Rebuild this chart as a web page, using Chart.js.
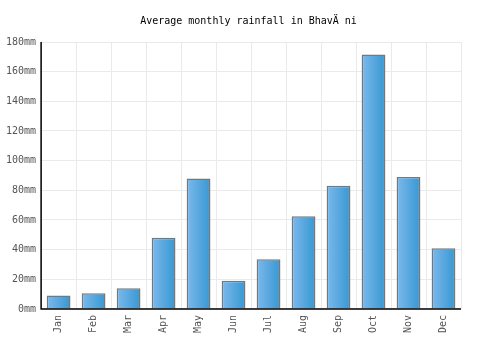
<!DOCTYPE html>
<html><head><meta charset="utf-8">
<script src="https://cdn.jsdelivr.net/npm/chart.js@4/dist/chart.umd.min.js"></script>
<style>html,body{margin:0;padding:0;background:#fff}#w{width:500px;height:350px}</style>
</head><body><div id="w"><canvas id="c"></canvas></div>
<script>
const categories = ["Jan","Feb","Mar","Apr","May","Jun","Jul","Aug","Sep","Oct","Nov","Dec"];
const rainfall = [9, 10.5, 14, 48, 88, 19, 33.5, 62.5, 83, 171.5, 89, 41];
const chartTitle = "Average monthly rainfall in Bhav\u00c4\u00a0ni";
const yUnit = "mm";

const gradPlugin = {
  id: 'grad',
  beforeDatasetsDraw(chart) {
    const ctx = chart.ctx;
    chart.getDatasetMeta(0).data.forEach(el => {
      const w = el.width;
      const g = ctx.createLinearGradient(el.x - w/2, 0, el.x + w/2, 0);
      g.addColorStop(0, '#7cb9ec');
      g.addColorStop(1, '#3797d2');
      el.options = Object.assign({}, el.options, { backgroundColor: g });
    });
  }
};
const axisLines = {
  id: 'axisLines',
  afterDatasetsDraw(chart) {
    const {ctx, chartArea: a} = chart;
    ctx.save();
    ctx.strokeStyle = '#000';
    ctx.lineWidth = 1.5;
    ctx.beginPath();
    ctx.moveTo(a.left, a.top);
    ctx.lineTo(a.left, a.bottom);
    ctx.lineTo(a.right, a.bottom);
    ctx.stroke();
    ctx.restore();
  }
};

new Chart(document.getElementById('c'), {
  type: 'bar',
  data: { labels: categories, datasets: [{ data: rainfall, borderColor: '#777', borderWidth: 1.5, backgroundColor: ctx => '#5aa8e0', barPercentage: 0.68, categoryPercentage: 1 }] },
  options: {
    responsive: true, maintainAspectRatio: false, animation: false,
    layout: { padding: { top: 6, right: 4, left: 1, bottom: 11 } },
    plugins: {
      legend: { display: false }, tooltip: { enabled: false },
      title: { display: true, text: chartTitle, color: '#000', font: { family: 'DejaVu Sans Mono', size: 10, weight: 'normal' }, padding: { top: 9, bottom: 15 } }
    },
    scales: {
      x: { grid: { color: '#eaeaea', offset: true, drawTicks: false }, border: { display: false },
           ticks: { color: '#555', font: { family: 'DejaVu Sans Mono', size: 10 }, maxRotation: 90, minRotation: 90, padding: 6 } },
      y: { min: 0, max: 180, grid: { color: '#eaeaea', drawTicks: false }, border: { display: false },
           ticks: { stepSize: 20, color: '#555', font: { family: 'DejaVu Sans Mono', size: 10 }, padding: 5, callback: v => v + yUnit } },
      yR: { position: 'right', display: true, grid: { display: false }, border: { display: false },
            ticks: { display: false }, afterFit(s) { s.width = 35; } }
    }
  },
  plugins: [gradPlugin, axisLines]
});
</script></body></html>
